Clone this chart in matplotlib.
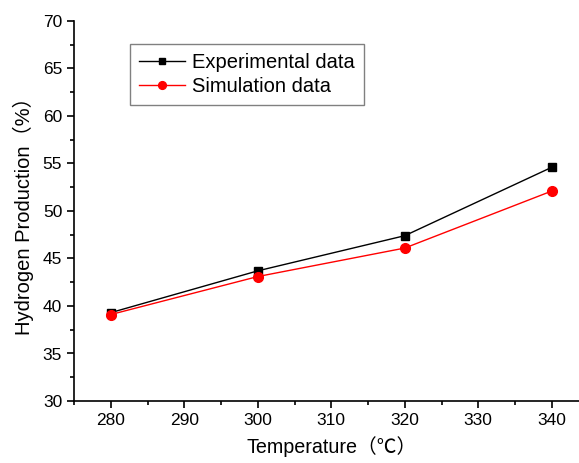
import matplotlib
matplotlib.use('agg')
import matplotlib.pyplot as plt
from matplotlib.ticker import MultipleLocator

temperature = [280, 300, 320, 340]
experimental = [39.3, 43.7, 47.4, 54.6]
simulation = [39.1, 43.1, 46.1, 52.1]

plt.rcParams['font.family'] = ['Liberation Sans', 'Noto Sans CJK SC', 'DejaVu Sans']

fig = plt.figure(figsize=(5.79, 4.63), dpi=100)
ax = fig.add_axes([74 / 579, 62 / 463, 514.5 / 579, 380 / 463])

ax.plot(temperature, experimental, 'k-', marker='s', ms=6, lw=1, label='Experimental data')
ax.plot(temperature, simulation, 'r-', marker='o', ms=7, lw=1, label='Simulation data')

ax.set_xlim(275, 345)
ax.set_ylim(30, 70)
ax.xaxis.set_major_locator(MultipleLocator(10))
ax.xaxis.set_minor_locator(MultipleLocator(5))
ax.yaxis.set_major_locator(MultipleLocator(5))
ax.yaxis.set_minor_locator(MultipleLocator(2.5))
ax.tick_params(which='both', direction='out', width=1.2, labelsize=12.5)
ax.tick_params(which='major', length=5)
ax.tick_params(which='minor', length=3)

for side in ['top', 'right']:
    ax.spines[side].set_visible(False)
for side in ['left', 'bottom']:
    ax.spines[side].set_linewidth(1.2)

ax.set_xlabel('Temperature（℃）', fontsize=14.2, labelpad=6)
ax.set_ylabel('Hydrogen Production（%）', fontsize=14.5, labelpad=6)

leg = ax.legend(loc='upper left', bbox_to_anchor=((130 - 74) / 514.5, 1 - (44 - 21) / 380),
                borderaxespad=0, fontsize=14.5, fancybox=False, edgecolor='gray',
                framealpha=1, handlelength=2.3, borderpad=0.45, labelspacing=0.25,
                handletextpad=0.35, markerscale=0.8)
leg.get_frame().set_linewidth(1.0)

fig.savefig('out.png', dpi=100)
